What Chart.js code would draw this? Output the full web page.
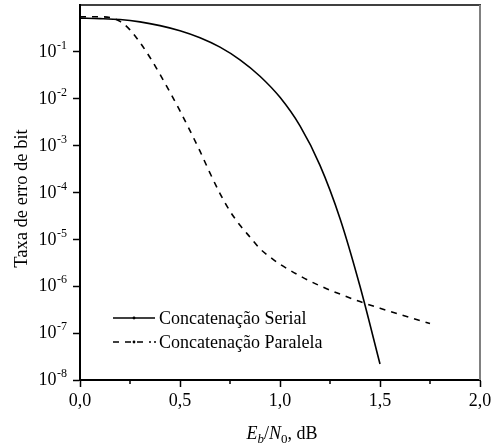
<!DOCTYPE html>
<html><head><meta charset="utf-8">
<script src="https://cdn.jsdelivr.net/npm/chart.js@4/dist/chart.umd.min.js"></script>
<style>html,body{margin:0;padding:0;background:#fff}#wrap{width:498px;height:446px}</style>
</head><body><div id="wrap"><canvas id="c" width="498" height="446"></canvas></div>
<script>
const serieLabels = ['Concatenação Serial', 'Concatenação Paralela'];

const ebn0Serial = [0, 0.1, 0.2, 0.3, 0.4, 0.5, 0.6, 0.7, 0.8, 0.9, 1.0, 1.1, 1.2, 1.3, 1.4, 1.5];
const berSerial  = [0.525, 0.513, 0.49, 0.437, 0.363, 0.282, 0.200, 0.126, 0.0676, 0.0302, 0.0107, 0.00263, 3.8e-4, 2.8e-5, 1.0e-6, 2.2e-8];

const ebn0Paralela = [0, 0.1, 0.15, 0.2, 0.25, 0.3, 0.35, 0.4, 0.45, 0.5, 0.55, 0.6, 0.65, 0.7, 0.75, 0.8, 0.85, 0.9, 0.95, 1.0, 1.1, 1.2, 1.3, 1.4, 1.5, 1.6, 1.75];
const berParalela  = [0.56, 0.56, 0.537, 0.447, 0.295, 0.158, 0.0759, 0.0331, 0.0138, 5.5e-3, 2.09e-3, 7.6e-4, 2.6e-4, 9.5e-5, 4.0e-5, 2.0e-5, 1.12e-5, 6.3e-6, 4.2e-6, 2.95e-6, 1.66e-6, 1.02e-6, 6.8e-7, 4.7e-7, 3.4e-7, 2.5e-7, 1.6e-7];

const xTickValues = [0, 0.25, 0.5, 0.75, 1.0, 1.25, 1.5, 1.75, 2.0];
const xTickLabels = ['0,0', '', '0,5', '', '1,0', '', '1,5', '', '2,0'];
const yTickValues = [1e-8, 1e-7, 1e-6, 1e-5, 1e-4, 1e-3, 1e-2, 1e-1];
const yTickExponents = ['-8', '-7', '-6', '-5', '-4', '-3', '-2', '-1'];

const yTitle = 'Taxa de erro de bit';
const xTitleParts = [
  {t: 'E', italic: true}, {t: 'b', italic: true, sub: true}, {t: '/'},
  {t: 'N', italic: true}, {t: '0', sub: true}, {t: ', dB'}
];

const FONT = "'Liberation Serif','Times New Roman',serif";

function pts(xs, ys) { return xs.map((x, i) => ({x: x, y: ys[i]})); }

const decor = {
  id: 'decor',
  afterDraw(chart) {
    const ctx = chart.ctx, a = chart.chartArea;
    const xs = chart.scales.x, ys = chart.scales.y;
    ctx.save();
    // top and right frame
    ctx.strokeStyle = '#000'; ctx.lineWidth = 1.5;
    ctx.beginPath(); ctx.moveTo(a.left, a.top); ctx.lineTo(a.right + 1, a.top); ctx.stroke();
    ctx.strokeStyle = '#808080'; ctx.lineWidth = 2;
    ctx.beginPath(); ctx.moveTo(a.right, a.top); ctx.lineTo(a.right, a.bottom); ctx.stroke();
    // minor x ticks
    ctx.strokeStyle = '#000'; ctx.lineWidth = 1.5;
    xTickValues.forEach((v, i) => {
      if (xTickLabels[i] === '') {
        const px = xs.getPixelForValue(v);
        ctx.beginPath(); ctx.moveTo(px, a.bottom); ctx.lineTo(px, a.bottom + 4); ctx.stroke();
      }
    });
    // y tick labels with superscripts
    ctx.fillStyle = '#000';
    ctx.textBaseline = 'middle';
    yTickValues.forEach((v, i) => {
      const py = ys.getPixelForValue(v);
      const rx = 67;
      ctx.font = '12px ' + FONT;
      const sw = ctx.measureText(yTickExponents[i]).width;
      ctx.textAlign = 'right';
      ctx.fillText(yTickExponents[i], rx, py - 6);
      ctx.font = '18px ' + FONT;
      ctx.fillText('10', rx - sw - 0.5, py + 0.5);
    });
    // y title
    ctx.save();
    ctx.translate(22, (a.top + a.bottom) / 2 + 6);
    ctx.rotate(-Math.PI / 2);
    ctx.textAlign = 'center'; ctx.textBaseline = 'middle';
    ctx.font = '18.5px ' + FONT;
    ctx.fillText(yTitle, 0, 0);
    ctx.restore();
    // x title
    ctx.textAlign = 'left'; ctx.textBaseline = 'alphabetic';
    const fontOf = p => (p.italic ? 'italic ' : '') + (p.sub ? '13px ' : '18px ') + FONT;
    let total = 0;
    xTitleParts.forEach(p => { ctx.font = fontOf(p); total += ctx.measureText(p.t).width; });
    let x = (a.left + a.right) / 2 - total / 2 + 2;
    const base = 439;
    xTitleParts.forEach(p => {
      ctx.font = fontOf(p);
      ctx.fillText(p.t, x, base + (p.sub ? 4 : 0));
      x += ctx.measureText(p.t).width;
    });
    // legend
    ctx.font = '18px ' + FONT;
    ctx.textBaseline = 'middle';
    const lx0 = 113, lx1 = 155, tx = 159;
    const rows = [318, 342];
    chart.data.datasets.forEach((ds, i) => {
      const y = rows[i];
      ctx.strokeStyle = ds.borderColor; ctx.lineWidth = 1.5;
      ctx.setLineDash(ds.borderDash || []);
      ctx.beginPath(); ctx.moveTo(lx0, y); ctx.lineTo(i === 0 ? lx1 : lx1 - 4, y); ctx.stroke();
      ctx.setLineDash([]);
      ctx.fillStyle = '#000';
      ctx.beginPath(); ctx.arc(134, y, 1.4, 0, Math.PI * 2); ctx.fill();
      if (i === 1) { ctx.beginPath(); ctx.arc(155, y, 1, 0, Math.PI * 2); ctx.fill(); }
      ctx.fillText(ds.label, tx, y + 1);
    });
    ctx.restore();
  }
};

new Chart(document.getElementById('c'), {
  type: 'line',
  data: {
    datasets: [
      {label: serieLabels[0], data: pts(ebn0Serial, berSerial), borderColor: '#000', borderWidth: 1.6,
       pointRadius: 0, cubicInterpolationMode: 'monotone', fill: false},
      {label: serieLabels[1], data: pts(ebn0Paralela, berParalela), borderColor: '#000', borderWidth: 1.6,
       borderDash: [6, 6], pointRadius: 0, cubicInterpolationMode: 'monotone', fill: false}
    ]
  },
  options: {
    responsive: false,
    devicePixelRatio: 1,
    animation: false,
    layout: {padding: {top: 5, right: 18, left: 0, bottom: 0}},
    plugins: {legend: {display: false}, tooltip: {enabled: false}},
    scales: {
      x: {
        type: 'linear', min: 0, max: 2,
        afterBuildTicks: s => { s.ticks = xTickValues.map(v => ({value: v})); },
        afterFit: s => { s.height = 66; },
        ticks: {
          autoSkip: false, maxRotation: 0, padding: 3, color: '#000',
          font: {family: FONT, size: 18},
          callback: (v, i) => xTickLabels[i]
        },
        grid: {drawOnChartArea: false, tickLength: 7, tickWidth: 1.5,
               tickColor: c => (xTickLabels[c.index] === '' ? 'rgba(0,0,0,0)' : '#000')},
        border: {color: '#000', width: 2}
      },
      y: {
        type: 'logarithmic', min: 1e-8, max: 1,
        afterBuildTicks: s => { s.ticks = yTickValues.map(v => ({value: v})); },
        afterFit: s => { s.width = 80; },
        ticks: {display: false},
        grid: {drawOnChartArea: false, tickLength: 7, tickWidth: 1.5, tickColor: '#000'},
        border: {color: '#000', width: 2}
      }
    }
  },
  plugins: [decor]
});
</script>
</body></html>
